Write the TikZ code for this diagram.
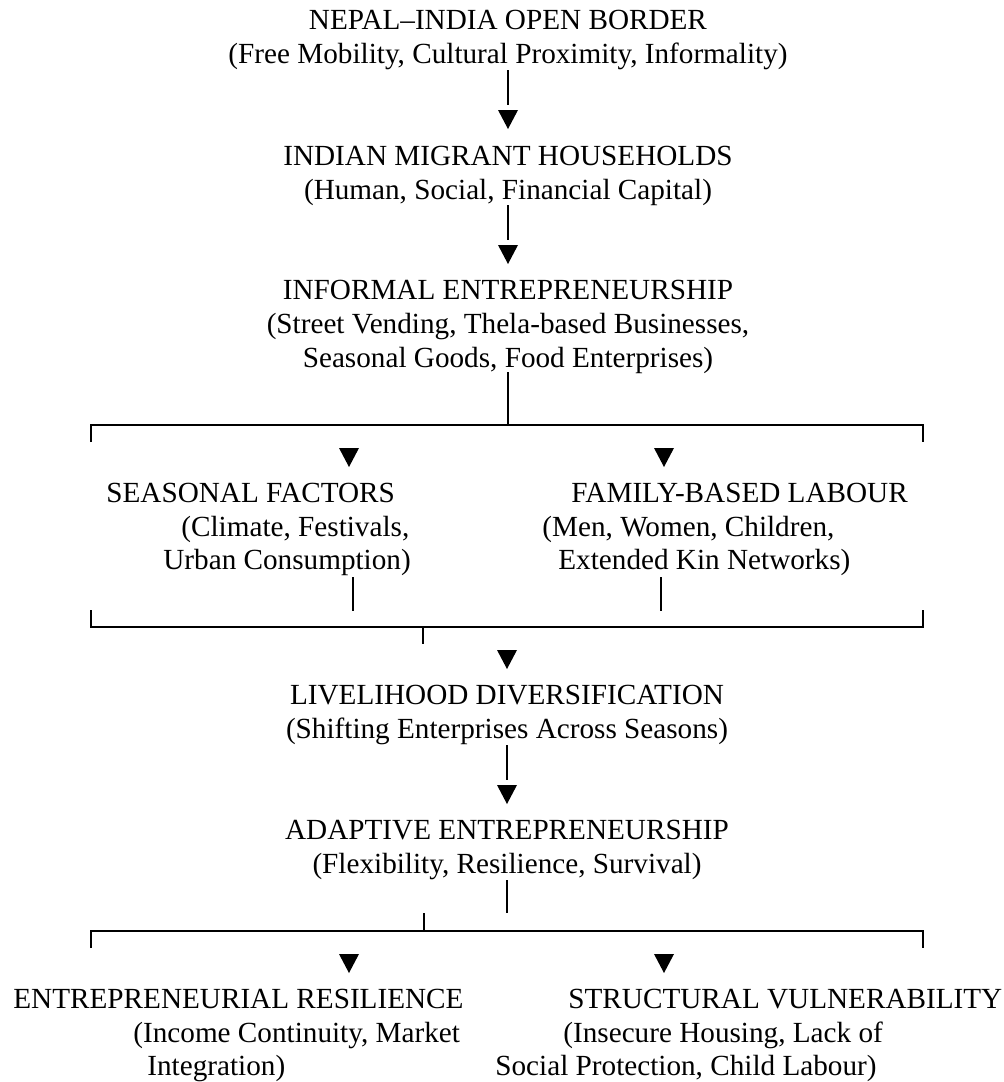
\documentclass[tikz,border=0pt]{standalone}
\usepackage{fontspec}
\setmainfont{Liberation Serif}
\usepackage{tikz}

\begin{document}
\begin{tikzpicture}[x=0.5pt, y=-0.5pt,
  txt/.style={anchor=base, inner sep=0pt, font=\fontsize{14.6}{17}\selectfont},
  lft/.style={txt, anchor=base west},
  link/.style={black, line width=1pt},
  tip/.pic={\fill[black] (-10,0) -- (10,0) -- (0,19) -- cycle;},
  downarrow/.pic={\draw[link] (0,0) -- (0,35); \path (0,40) pic {tip};}]

\useasboundingbox (0,0) rectangle (1003,1082);

% border and households
{
\node[txt] (bord1) at (508,29) {NEPAL–INDIA OPEN BORDER};
\node[txt] (bord2) at (508,63) {(Free Mobility, Cultural Proximity, Informality)};
\path (bord2.base) ++(0,7) pic {downarrow};

\node[txt] (hh1) at (508,165) {INDIAN MIGRANT HOUSEHOLDS};
\node[txt] (hh2) at (508,199) {(Human, Social, Financial Capital)};
\path (hh2.base) ++(0,6) pic {downarrow};

\node[txt] (inf1) at (508,299) {INFORMAL ENTREPRENEURSHIP};
\node[txt] (inf2) at (508,333) {(Street Vending, Thela-based Businesses,};
\node[txt] (inf3) at (508,367) {Seasonal Goods, Food Enterprises)};
}

% first split
{
\coordinate (bA) at (91,425);
\coordinate (cA) at (923,425);
\draw[link] (inf3.base) ++(0,5) -- (inf3.base |- bA);
\draw[link] (bA) ++(0,17) |- (cA) -- ++(0,17);
\path (349,448) pic {tip};
\path (664,448) pic {tip};

\node[lft] (sea1) at (106,502) {SEASONAL FACTORS};
\node[lft] (sea2) at (181,536) {(Climate, Festivals,};
\node[lft] (sea3) at (163,569) {Urban Consumption)};

\node[lft] (fam1) at (571,502) {FAMILY-BASED LABOUR};
\node[lft] (fam2) at (542,536) {(Men, Women, Children,};
\node[lft] (fam3) at (558,569) {Extended Kin Networks)};
}

% joining again
{
\coordinate (bB) at (91,627);
\coordinate (cB) at (923,627);
\draw[link] (sea3.base west) ++(190,8) -- ++(0,34);
\draw[link] (fam3.base west) ++(103,8) -- ++(0,34);
\draw[link] (bB) ++(0,-17) |- (cB) -- ++(0,-17);
\draw[link] (bB) ++(332,0) -- ++(0,17);
\path (507,650) pic {tip};

\node[txt] (liv1) at (507,704) {LIVELIHOOD DIVERSIFICATION};
\node[txt] (liv2) at (507,738) {(Shifting Enterprises Across Seasons)};
\path (liv2.base) ++(0,7) pic {downarrow};

\node[txt] (ada1) at (507,839) {ADAPTIVE ENTREPRENEURSHIP};
\node[txt] (ada2) at (507,873) {(Flexibility, Resilience, Survival)};
}

% outcomes
{
\coordinate (bC) at (91,931);
\coordinate (cC) at (923,931);
\draw[link] (ada2.base) ++(0,7) -- ++(0,33);
\draw[link] (bC) ++(333,0) -- ++(0,-18);
\draw[link] (bC) ++(0,17) |- (cC) -- ++(0,17);
\path (349,954) pic {tip};
\path (664,954) pic {tip};

\node[lft] (res1) at (13,1008) {ENTREPRENEURIAL RESILIENCE};
\node[lft] (res2) at (133,1042) {(Income Continuity, Market};
\node[lft] (res3) at (147,1075) {Integration)};

\node[lft] (vul1) at (568,1008) {STRUCTURAL VULNERABILITY};
\node[lft] (vul2) at (563,1042) {(Insecure Housing, Lack of};
\node[lft] (vul3) at (495,1075) {Social Protection, Child Labour)};
}

\end{tikzpicture}
\end{document}
